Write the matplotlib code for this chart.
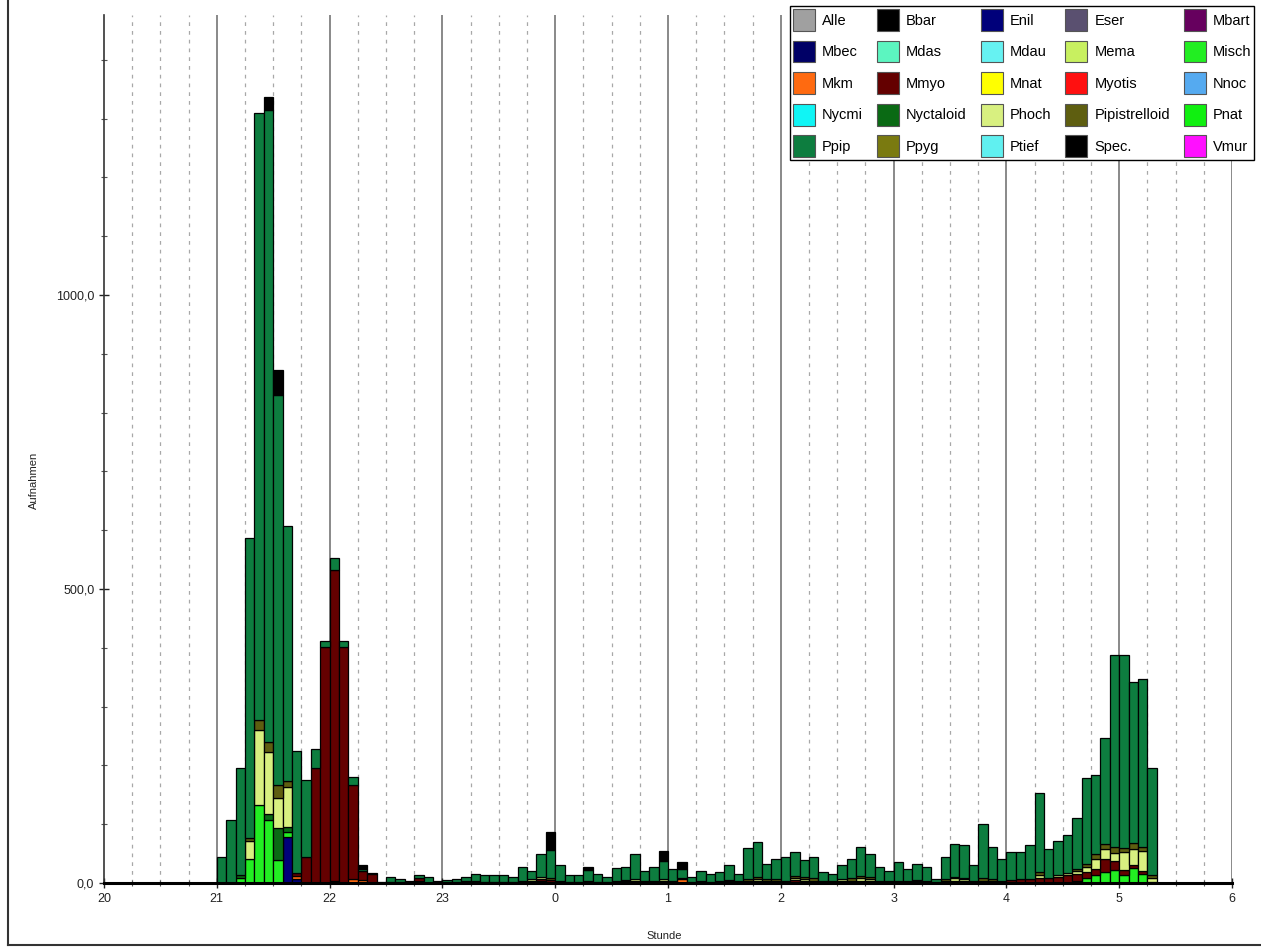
import numpy as np
import matplotlib.pyplot as plt
from matplotlib.patches import Patch
from matplotlib.lines import Line2D
from matplotlib.ticker import MultipleLocator, FixedLocator

plt.rcParams['font.family'] = ['Liberation Sans', 'DejaVu Sans']

# 5-minute bins, first bin starts at 21:00 (hours after midnight run on as 24, 25, ...)
bin_start = 21.0
bin_width = 5 / 60

# counts per bin and species
enil = [0, 0, 0, 0, 0, 0, 0, 79, 6, 0] + [0] * 90

misch = [0, 0, 8, 40, 133, 107, 39, 8, 0, 0,
         0, 0, 0, 0, 0, 0, 0, 0, 0, 0,
         0, 0, 0, 0, 0, 0, 0, 0, 0, 0,
         0, 0, 0, 0, 0, 0, 0, 0, 0, 0,
         0, 0, 0, 0, 0, 0, 0, 0, 0, 0,
         0, 0, 0, 0, 0, 0, 0, 0, 0, 0,
         0, 0, 0, 0, 0, 0, 0, 0, 0, 0,
         0, 0, 0, 0, 0, 0, 0, 0, 0, 0,
         0, 0, 0, 0, 0, 0, 0, 0, 0, 0,
         0, 3, 8, 14, 19, 22, 14, 25, 16, 2]

mkm = [0, 0, 0, 0, 0, 0, 0, 0, 6, 0,
       0, 0, 3, 0, 6, 5, 0, 0, 0, 0,
       0, 4, 0, 0, 0, 0, 0, 0, 0, 0,
       0, 0, 0, 0, 3, 0, 0, 0, 0, 0,
       0, 0, 0, 0, 0, 0, 0, 0, 0, 6,
       0, 0, 0, 0, 0, 0, 0, 0, 0, 0,
       0, 0, 0, 0, 0, 0, 0, 0, 0, 0,
       0, 0, 0, 0, 0, 0, 0, 0, 0, 0,
       0, 0, 0, 0, 0, 0, 0, 0, 0, 0,
       0, 0, 0, 0, 0, 0, 0, 0, 0, 0]

mmyo = [0, 0, 0, 0, 0, 0, 0, 0, 5, 45,
        195, 402, 530, 402, 161, 15, 15, 0, 2, 1,
        0, 4, 0, 1, 1, 2, 3, 3, 2, 2,
        2, 2, 3, 4, 4, 5, 3, 2, 2, 3,
        2, 2, 3, 3, 3, 3, 4, 4, 3, 3,
        2, 3, 2, 3, 3, 3, 4, 4, 4, 4,
        4, 5, 4, 4, 3, 3, 4, 4, 4, 4,
        3, 3, 4, 3, 3, 3, 2, 3, 3, 3,
        3, 4, 4, 4, 5, 6, 7, 8, 8, 10,
        14, 12, 11, 10, 22, 15, 8, 5, 4, 0]

nyctaloid = [0, 0, 5, 0, 0, 11, 54, 8, 0, 0] + [0] * 90

phoch = [0, 0, 0, 31, 128, 105, 51, 68, 0, 0,
         0, 0, 0, 0, 0, 0, 0, 0, 0, 0,
         0, 0, 0, 0, 0, 0, 0, 0, 0, 0,
         0, 0, 0, 2, 3, 0, 0, 0, 0, 0,
         0, 0, 0, 0, 3, 0, 0, 3, 0, 0,
         0, 0, 0, 0, 0, 0, 0, 3, 0, 0,
         0, 3, 3, 0, 0, 0, 3, 0, 4, 3,
         0, 0, 0, 0, 0, 0, 0, 0, 5, 3,
         0, 0, 0, 0, 0, 0, 0, 5, 0, 3,
         3, 6, 8, 17, 17, 14, 31, 28, 34, 6]

pipistrelloid = [0, 0, 0, 6, 17, 17, 23, 11, 0, 0,
                 0, 0, 0, 0, 0, 0, 0, 0, 0, 0,
                 0, 0, 0, 0, 0, 0, 0, 0, 0, 0,
                 0, 0, 0, 0, 0, 3, 0, 0, 0, 0,
                 0, 0, 0, 2, 0, 0, 0, 0, 0, 0,
                 0, 0, 0, 0, 2, 0, 3, 3, 2, 3,
                 0, 4, 3, 4, 0, 0, 0, 4, 4, 3,
                 0, 0, 0, 0, 2, 0, 0, 3, 3, 3,
                 0, 5, 3, 0, 0, 0, 0, 5, 0, 0,
                 0, 3, 5, 8, 8, 10, 6, 10, 7, 5]

ppip = [45, 107, 182, 510, 1031, 1075, 663, 433, 208, 130,
        33, 10, 20, 10, 14, 3, 2, 2, 8, 5,
        3, 5, 10, 3, 4, 5, 8, 13, 11, 12,
        12, 8, 25, 15, 40, 48, 28, 11, 11, 19,
        13, 9, 22, 23, 43, 18, 24, 30, 20, 14,
        9, 18, 13, 16, 26, 12, 53, 59, 27, 34,
        40, 40, 29, 36, 15, 13, 24, 32, 50, 40,
        25, 18, 32, 20, 28, 25, 4, 39, 55, 56,
        28, 91, 55, 36, 47, 46, 58, 135, 49, 58,
        64, 86, 146, 135, 181, 327, 329, 273, 286, 182]

spec = [0, 0, 0, 0, 0, 21, 42, 0, 0, 0,
        0, 0, 0, 0, 0, 8, 0, 0, 0, 0,
        0, 0, 0, 0, 0, 0, 0, 0, 0, 0,
        0, 0, 0, 0, 0, 31, 0, 0, 0, 5,
        0, 0, 0, 0, 0, 0, 0, 17, 0, 12,
        0, 0, 0, 0, 0, 0, 0, 0, 0, 0,
        0, 0, 0, 0, 0, 0, 0, 0, 0, 0,
        0, 0, 0, 0, 0, 0, 0, 0, 0, 0,
        0, 0, 0, 0, 0, 0, 0, 0, 0, 0,
        0, 0, 0, 0, 0, 0, 0, 0, 0, 0]

# legend order = stacking order (bottom to top)
species = ["Alle", "Bbar", "Enil", "Eser", "Mbart",
           "Mbec", "Mdas", "Mdau", "Mema", "Misch",
           "Mkm", "Mmyo", "Mnat", "Myotis", "Nnoc",
           "Nycmi", "Nyctaloid", "Phoch", "Pipistrelloid", "Pnat",
           "Ppip", "Ppyg", "Ptief", "Spec.", "Vmur"]
colors = ["#a0a0a0", "#000000", "#00007a", "#5a5070", "#66005e",
          "#000066", "#5cf5c0", "#66f2f2", "#c8f060", "#22ee22",
          "#ff6a10", "#640000", "#ffff00", "#ff1010", "#55aaf0",
          "#10f5f5", "#0a6a14", "#d8f080", "#5e5e10", "#10f010",
          "#0d7d3f", "#7a7a10", "#60f0f0", "#000000", "#ff10ff"]
counts = {"Enil": enil, "Misch": misch, "Mkm": mkm, "Mmyo": mmyo,
          "Nyctaloid": nyctaloid, "Phoch": phoch,
          "Pipistrelloid": pipistrelloid, "Ppip": ppip, "Spec.": spec}

fig = plt.figure(figsize=(12.61, 9.51), dpi=100)
ax = fig.add_axes([104 / 1261, 68 / 951, 1128 / 1261, 868 / 951])

x = bin_start + np.arange(len(ppip)) * bin_width
bottom = np.zeros(len(ppip))
for name, col in zip(species, colors):
    if name not in counts:
        continue
    vals = np.array(counts[name], dtype=float)
    m = vals > 0
    ax.bar(x[m], vals[m], width=bin_width, bottom=bottom[m], align='edge',
           color=col, edgecolor='black', linewidth=0.9, zorder=3)
    bottom += vals

# grid: solid every hour, dashed every quarter hour
for h in range(21, 31):
    ax.axvline(h, color='#808080', lw=1.3, zorder=1)
for q in np.arange(20, 30, 0.25):
    if q % 1 != 0:
        ax.axvline(q, color='#a8a8a8', lw=0.9, ls=(0, (3, 4)), zorder=1)

ax.set_xlim(20, 30)
ax.set_ylim(0, 1476)

ax.xaxis.set_major_locator(FixedLocator(range(20, 31)))
ax.set_xticklabels([str(h % 24) for h in range(20, 31)])
ax.xaxis.set_minor_locator(MultipleLocator(0.25))
ax.yaxis.set_major_locator(FixedLocator([0, 500, 1000]))
ax.set_yticklabels(["0,0", "500,0", "1000,0"])
ax.yaxis.set_minor_locator(MultipleLocator(100))
ax.tick_params(axis='both', which='major', direction='inout', length=7,
               width=1, labelsize=9, colors='#222222')
ax.tick_params(axis='both', which='minor', direction='inout', length=5,
               width=0.8, colors='#555555')
ax.tick_params(axis='x', which='major', pad=4)

for s in ['top', 'right']:
    ax.spines[s].set_visible(False)
ax.spines['left'].set_linewidth(1.2)
ax.spines['left'].set_color('#333333')
ax.spines['bottom'].set_linewidth(2.2)
ax.spines['bottom'].set_zorder(5)

ax.set_ylabel("Aufnahmen", fontsize=8, color='#222222')
ax.yaxis.set_label_coords(-0.058, 0.464)
ax.set_xlabel("Stunde", fontsize=8, color='#222222')
ax.xaxis.set_label_coords(0.497, -0.0555)

# legend is filled row by row in the original, so hand the entries over column-wise
handles = [Patch(facecolor=c, edgecolor='#555555', linewidth=0.8, label=n)
           for n, c in zip(species, colors)]
ncol = 5
handles = [handles[r * ncol + c] for c in range(ncol) for r in range(len(handles) // ncol)]
leg = fig.legend(handles=handles, ncol=ncol, loc='upper left',
                 bbox_to_anchor=(790 / 1261, 1 - 6 / 951), bbox_transform=fig.transFigure,
                 borderaxespad=0, fontsize=10.5, handlelength=1.5, handleheight=1.94,
                 handletextpad=0.5, labelspacing=0.66, columnspacing=0.95,
                 borderpad=0.2, fancybox=False, framealpha=1, edgecolor='black')
leg.get_frame().set_linewidth(1.0)

# outer frame of the figure
fig.add_artist(Line2D([8 / 1261, 8 / 1261], [6 / 951, 1], transform=fig.transFigure,
                      color='#333333', lw=1.5))
fig.add_artist(Line2D([8 / 1261, 1], [6 / 951, 6 / 951], transform=fig.transFigure,
                      color='#333333', lw=1.5))

fig.savefig("out.png", dpi=100)
